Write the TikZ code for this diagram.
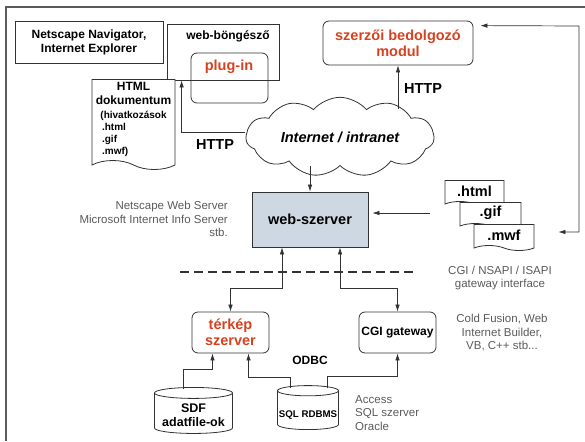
\documentclass[tikz,border=0pt]{standalone}
\usepackage{fontspec}
\setmainfont{Liberation Sans}
\usetikzlibrary{arrows.meta,shapes.geometric,shapes.symbols}
\definecolor{redtxt}{RGB}{214,66,32}
\definecolor{greytxt}{RGB}{90,90,90}
\definecolor{srvfill}{RGB}{206,216,226}
\definecolor{linec}{RGB}{50,50,50}

\begin{document}
\begin{tikzpicture}[x=1pt,y=-1pt,
    every node/.style={inner sep=1pt, text=black},
    box/.style={draw=linec, line width=0.8pt},
    rbox/.style={draw=linec, line width=0.8pt, rounded corners=6pt},
    docpage/.style={draw=linec, line width=0.8pt, fill=white, tape,
        tape bend top=none, tape bend bottom=out and in, tape bend height=6pt},
    drum/.style={draw=linec, line width=0.8pt, fill=white, cylinder,
        shape border rotate=90, aspect=0.17},
    arr/.style={draw=linec, line width=0.7pt, -{Latex[length=7pt,width=4.5pt]}},
    biarr/.style={draw=linec, line width=0.7pt, {Latex[length=7pt,width=4.5pt]}-{Latex[length=7pt,width=4.5pt]}},
    bsmall/.style={font=\fontsize{12}{14}\selectfont\bfseries, align=center},
    bbig/.style={font=\fontsize{14.5}{16}\selectfont\bfseries, align=center},
    redbig/.style={bbig, text=redtxt},
    greynote/.style={font=\fontsize{11.5}{13.5}\selectfont, text=greytxt}]
    \useasboundingbox (0,0) rectangle (585,441);

    % Outer frame (cut off at right and bottom)
    \draw[linec!80, line width=1.4pt] (6,441) -- (6,7) -- (585,7);

    % Client side
    \node[box, bsmall, minimum width=148, minimum height=42] (navi) at (89,42)
        {Netscape Navigator,\\Internet Explorer};
    \node[box, minimum width=112, minimum height=56] (brow) at (223,52) {};
    \node[bsmall] (browtxt) at (228,36) {web-böngésző};
    \node[rbox, minimum width=77, minimum height=50] (plugin) at (229.5,78) {};
    \node[redbig] (plugtxt) at (229,67) {plug-in};
    \node[docpage, tape bend height=9pt, bsmall, minimum width=83, minimum height=90] (htmldoc) at (133.5,120)
        {HTML\\dokumentum\\[4pt]\fontsize{10}{12}\selectfont\begin{tabular}{@{}l@{}}(hivatkozások\\ \,.html\\ \,.gif\\ \,.mwf)\end{tabular}};

    % Authoring module
    \node[rbox, redbig, minimum width=150, minimum height=44] (szerzo) at (398,43)
        {szerzői bedolgozó\\modul};

    % Network
    \node[cloud, draw=linec, line width=0.8pt, cloud puffs=11, cloud puff arc=100, aspect=2.8,
        minimum width=188, minimum height=67, inner sep=0pt,
        font=\fontsize{14.5}{16}\selectfont\bfseries\itshape] (net) at (340,137) {Internet / intranet};
    \node[bbig] (httpl) at (215,145) {HTTP};
    \node[bbig] (httpr) at (423,89) {HTTP};

    % Web server
    \node[box, fill=srvfill, bbig, minimum width=116, minimum height=55] (web) at (310,219.5) {web-szerver};
    \node[greynote, align=right, anchor=east] (webnote) at (229,219)
        {Netscape Web Server\\Microsoft Internet Info Server\\stb.};

    % Published files
    \node[docpage, tape bend height=5pt, bbig, minimum width=59, minimum height=26] (html) at (474.5,191) {.html};
    \node[docpage, tape bend height=5pt, bbig, minimum width=61, minimum height=26] (gif) at (490.5,213) {.gif};
    \node[docpage, tape bend height=5pt, bbig, minimum width=60, minimum height=26] (mwf) at (504,235) {.mwf};

    % Gateway layer
    \draw[linec, line width=1.3pt, dash pattern=on 9pt off 5pt] (180,272) -- (417,272);
    \node[greynote, align=center] (gwnote) at (500,278) {CGI / NSAPI / ISAPI\\gateway interface};
    \node[greynote, align=center] (toolnote) at (502,333) {Cold Fusion, Web\\Internet Builder,\\VB, C++ stb...};
    \node[rbox, redbig, minimum width=77, minimum height=41] (terkep) at (230.5,332.5) {térkép\\szerver};
    \node[rbox, bsmall, minimum width=77, minimum height=41] (cgi) at (397.5,332.5) {CGI gateway};
    \node[bsmall] (odbc) at (310,360) {ODBC};

    % Data sources
    \node[drum, minimum width=78, minimum height=46, font=\fontsize{12.5}{14}\selectfont\bfseries] (sdf) at (193.5,414)
        {\phantom{adatfile-ok}};
    \node[font=\fontsize{12.5}{14}\selectfont\bfseries, align=center] (sdftxt) at (193.5,415) {SDF\\adatfile-ok};
    \node[drum, minimum width=61, minimum height=44, font=\fontsize{9.7}{11}\selectfont\bfseries] (sql) at (308,411)
        {\phantom{SQL RDBMS}};
    \node[font=\fontsize{9.7}{11}\selectfont\bfseries] (sqltxt) at (308,415) {SQL RDBMS};
    \node[greynote, align=left, anchor=west] (dbnote) at (354,413) {Access\\SQL szerver\\Oracle};

    % Connectors
    \coordinate (rt) at (579,26);
    \coordinate (rb) at (579,232);
    \draw[arr] ([yshift=5pt]net.west) -| ([xshift=15pt]brow.south west);
    \draw[arr] ([yshift=-12pt]szerzo.south |- net.north) -- (szerzo.south);
    \draw[biarr] ([xshift=7pt,yshift=-5pt]szerzo.north east) -- (rt) -- (rb) -- ([xshift=24pt]mwf.east |- rb);
    \draw[arr] (web.north |- net.south) -- (web.north);
    \draw[arr] ([xshift=-15pt]html.west |- gif) -- ([xshift=4pt]web.east |- gif);
    \draw[biarr] ([xshift=-28pt]web.south) -- ++(0,41) -| (terkep.north);
    \draw[biarr] ([xshift=30pt]web.south) -- ++(0,41) -| (cgi.north);
    \draw[arr] ([xshift=-10pt,yshift=-2pt]sdf.north) -- ++(0,-20) -| ([xshift=-18pt]terkep.south);
    \draw[arr] ([xshift=-18pt,yshift=-3pt]sql.north) -- ++(0,-11) -| ([xshift=18pt]terkep.south);
    \draw[arr] ([xshift=19pt,yshift=-3pt]sql.north) -- ++(0,-12) -| (cgi.south);
\end{tikzpicture}
\end{document}
